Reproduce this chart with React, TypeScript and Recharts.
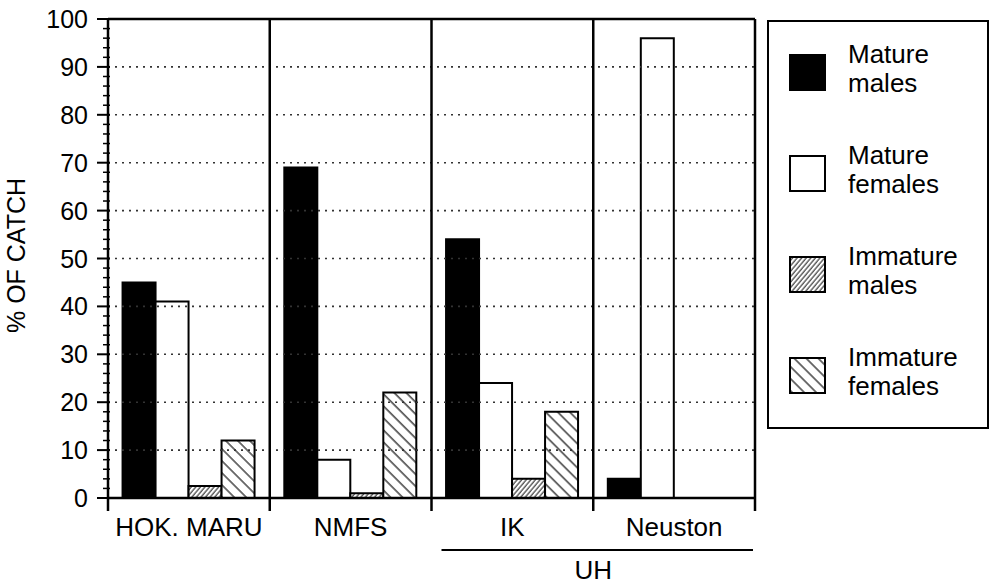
import React from 'react';
import { BarChart, Bar, XAxis, YAxis, ReferenceLine, Legend } from 'recharts';

const categories = ['HOK. MARU', 'NMFS', 'IK', 'Neuston'];
const matureMales = [45, 69, 54, 4];
const matureFemales = [41, 8, 24, 96];
const immatureMales = [2.5, 1, 4, 0];
const immatureFemales = [12, 22, 18, 0];

const yAllTicks = [0, 2, 4, 6, 8, 10, 12, 14, 16, 18, 20, 22, 24, 26, 28, 30, 32, 34, 36, 38, 40, 42, 44, 46, 48, 50, 52, 54, 56, 58, 60, 62, 64, 66, 68, 70, 72, 74, 76, 78, 80, 82, 84, 86, 88, 90, 92, 94, 96, 98, 100];
const gridValues = [10, 20, 30, 40, 50, 60, 70, 80, 90];
const groupLabel = 'UH';
const yLabel = '% OF CATCH';

const series = [
  { key: 'matureMales', lines: ['Mature', 'males'], fill: '#000' },
  { key: 'matureFemales', lines: ['Mature', 'females'], fill: '#fff' },
  { key: 'immatureMales', lines: ['Immature', 'males'], fill: 'url(#hatchFine)' },
  { key: 'immatureFemales', lines: ['Immature', 'females'], fill: 'url(#hatchWide)' },
];

const data = categories.map((name, i) => ({
  name,
  matureMales: matureMales[i],
  matureFemales: matureFemales[i],
  immatureMales: immatureMales[i],
  immatureFemales: immatureFemales[i],
}));

const FONT = '"Liberation Sans", Arial, Helvetica, sans-serif';

const W = 989;
const H = 585;
const MARGIN = { top: 19, right: 234, bottom: 27, left: 0 };
const Y_AXIS_W = 108;
const PLOT_W = W - MARGIN.left - MARGIN.right - Y_AXIS_W;
const BAND = PLOT_W / categories.length;

const YTick = (props: any) => {
  const { x, y, payload } = props;
  const axisX = x + 20;
  const v = payload.value;
  const major = v % 10 === 0;
  return (
    <g>
      <line x1={axisX - (major ? 11 : 5)} x2={axisX + 2} y1={y} y2={y} stroke="#000" strokeWidth={major ? 2 : 1.5} />
      {major && (
        <text x={x} y={y} dy="0.36em" textAnchor="end" fontSize={25} fontFamily={FONT} fill="#000">
          {v}
        </text>
      )}
    </g>
  );
};

const CatTick = (props: any) => {
  const { x, y, payload, index } = props;
  const axisY = y - 8;
  return (
    <g>
      {index === 0 && (
        <line x1={x - BAND / 2} x2={x - BAND / 2} y1={axisY} y2={axisY + 13} stroke="#000" strokeWidth={2.5} />
      )}
      <line x1={x + BAND / 2} x2={x + BAND / 2} y1={axisY} y2={axisY + 13} stroke="#000" strokeWidth={2.5} />
      <text x={x} y={y} dy={30} textAnchor="middle" fontSize={26} fontFamily={FONT} fill="#000">
        {payload.value}
      </text>
      {index === 2 && (
        <g>
          <line x1={x - BAND / 2 + 10} x2={x + BAND * 1.5 - 2} y1={y + 44} y2={y + 44} stroke="#000" strokeWidth={2} />
          <text x={x + BAND / 2} y={y} dy={73} textAnchor="middle" fontSize={26} fontFamily={FONT} fill="#000">
            {groupLabel}
          </text>
        </g>
      )}
    </g>
  );
};

const renderLegend = () => (
  <svg width={222} height={409} style={{ display: 'block' }}>
    <rect x={1} y={1} width={220} height={407} fill="#fff" stroke="#000" strokeWidth={2} />
    {series.map((s, i) => {
      const cy = 52 + i * 101;
      return (
        <g key={s.key}>
          <rect x={23} y={cy - 17} width={35} height={35} fill={s.fill} stroke="#000" strokeWidth={2} />
          <text x={81} y={cy - 9} fontSize={26} fontFamily={FONT} fill="#000">{s.lines[0]}</text>
          <text x={81} y={cy + 20} fontSize={26} fontFamily={FONT} fill="#000">{s.lines[1]}</text>
        </g>
      );
    })}
  </svg>
);

const YLabel = (props: any) => {
  const vb = props.viewBox || { x: 0, y: 19, width: 108, height: 479 };
  const cx = vb.x + 25;
  const cy = vb.y + vb.height / 2 - 3;
  return (
    <text x={cx} y={cy} transform={`rotate(-90, ${cx}, ${cy})`} textAnchor="middle" fontSize={25} fontFamily={FONT} fill="#000">
      {yLabel}
    </text>
  );
};

export default function App() {
  return (
    <div style={{ position: 'absolute', left: 0, top: 0, width: W, height: H, background: '#fff' }}>
      <BarChart width={W} height={H} data={data} margin={MARGIN} barCategoryGap="9%" barGap={0}>
        <defs>
          <pattern id="hatchFine" patternUnits="userSpaceOnUse" width={3.5} height={3.5} patternTransform="rotate(40)">
            <rect x={0} y={0} width={3.5} height={3.5} fill="#fff" />
            <line x1={1} y1={0} x2={1} y2={3.5} stroke="#111" strokeWidth={1} />
          </pattern>
          <pattern id="hatchWide" patternUnits="userSpaceOnUse" width={8.5} height={8.5} patternTransform="rotate(-45)">
            <rect x={0} y={0} width={8.5} height={8.5} fill="#fff" />
            <line x1={1} y1={0} x2={1} y2={8.5} stroke="#111" strokeWidth={1.2} />
          </pattern>
        </defs>
        <XAxis
          xAxisId="cat"
          dataKey="name"
          height={60}
          axisLine={{ stroke: '#000', strokeWidth: 2.5 }}
          tickLine={false}
          interval={0}
          tick={<CatTick />}
        />
        <YAxis
          yAxisId="y"
          type="number"
          domain={[0, 100]}
          ticks={yAllTicks}
          interval={0}
          width={Y_AXIS_W}
          tickSize={11}
          tickMargin={9}
          tickLine={false}
          tick={<YTick />}
          axisLine={{ stroke: '#000', strokeWidth: 2.5 }}
          label={<YLabel />}
        />
        {gridValues.map((v) => (
          <ReferenceLine key={`g${v}`} xAxisId="cat" yAxisId="y" y={v} stroke="#333" strokeWidth={1.6} strokeDasharray="2 5" />
        ))}
        {series.map((s) => (
          <Bar
            key={s.key}
            xAxisId="cat"
            yAxisId="y"
            dataKey={s.key}
            fill={s.fill}
            stroke="#000"
            strokeWidth={2}
            isAnimationActive={false}
          />
        ))}
        {categories.map((c) => (
          <ReferenceLine key={`s${c}`} xAxisId="cat" yAxisId="y" x={c} position="end" stroke="#000" strokeWidth={2.5} />
        ))}
        <ReferenceLine xAxisId="cat" yAxisId="y" y={100} stroke="#000" strokeWidth={2.5} />
        <Legend
          layout="vertical"
          align="center"
          verticalAlign="middle"
          content={renderLegend}
          wrapperStyle={{ position: 'absolute', left: 767, top: 20, width: 222, height: 409 }}
        />
      </BarChart>
    </div>
  );
}
